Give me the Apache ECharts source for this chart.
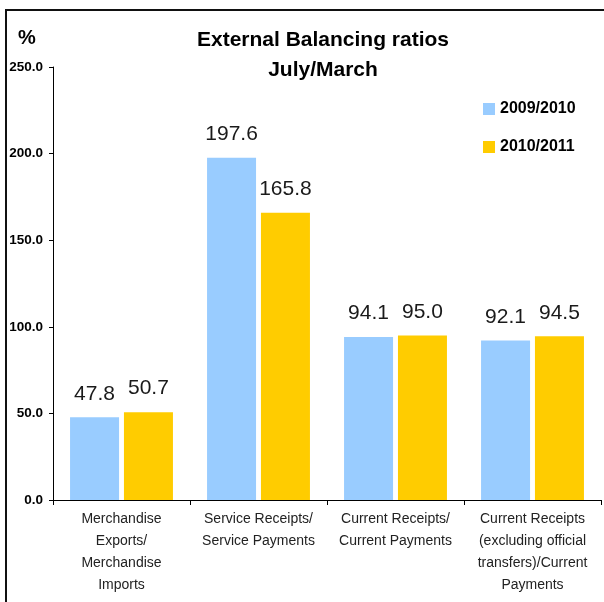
<!DOCTYPE html>
<html>
<head>
<meta charset="utf-8">
<script src="https://cdn.jsdelivr.net/npm/echarts@6/dist/echarts.min.js"></script>
<style>
  html, body { margin: 0; padding: 0; background: #fff; }
  #chart { width: 604px; height: 602px; }
</style>
</head>
<body>
<div id="chart"></div>
<script>
// Ratio categories (multi-line labels under the x axis)
const categories = [
  'Merchandise\nExports/\nMerchandise\nImports',
  'Service Receipts/\nService Payments',
  'Current Receipts/\nCurrent Payments',
  'Current Receipts\n(excluding official\ntransfers)/Current\nPayments'
];
const seriesNames = ['2009/2010', '2010/2011'];
const values2009 = [47.8, 197.6, 94.1, 92.1];
const values2010 = [50.7, 165.8, 95.0, 94.5];
const yTicks = { min: 0, max: 250, interval: 50 };

const FONT = 'Arial, "Liberation Sans", sans-serif';

const chart = echarts.init(document.getElementById('chart'));

function barSeries(name, data, color) {
  return {
    name: name,
    type: 'bar',
    data: data,
    barWidth: 49,
    barGap: '10%',
    itemStyle: { color: color },
    label: {
      show: true,
      position: 'top',
      distance: 13,
      fontFamily: FONT,
      fontSize: 21,
      color: '#1a1a1a',
      formatter: p => p.value.toFixed(1)
    }
  };
}

chart.setOption({
  animation: false,
  backgroundColor: '#fff',
  textStyle: { fontFamily: FONT },
  grid: { left: 53, right: 3, top: 67, bottom: 102, containLabel: false },
  legend: {
    orient: 'vertical',
    left: 478,
    top: 96,
    itemWidth: 12,
    itemHeight: 12,
    itemGap: 22,
    icon: 'rect',
    textStyle: { fontFamily: FONT, fontSize: 16, fontWeight: 'bold', color: '#000' },
    data: seriesNames
  },
  xAxis: {
    type: 'category',
    data: categories,
    axisLine: { lineStyle: { color: '#000', width: 1 } },
    axisTick: { show: true, length: 5, lineStyle: { color: '#000' } },
    axisLabel: {
      interval: 0,
      margin: 8,
      fontFamily: FONT,
      fontSize: 14,
      lineHeight: 22,
      color: '#222'
    },
    splitLine: { show: false }
  },
  yAxis: {
    type: 'value',
    min: yTicks.min,
    max: yTicks.max,
    interval: yTicks.interval,
    axisLine: { show: true, lineStyle: { color: '#000', width: 1 } },
    axisTick: { show: true, length: 4, lineStyle: { color: '#000' } },
    axisLabel: {
      margin: 10,
      fontFamily: FONT,
      fontSize: 13.5,
      fontWeight: 'bold',
      color: '#000',
      formatter: v => v.toFixed(1)
    },
    splitLine: { show: false }
  },
  graphic: [
    {
      type: 'rect',
      silent: true,
      shape: { x: 6, y: 10, width: 700, height: 700 },
      style: { fill: null, stroke: '#111', lineWidth: 2 }
    },
    {
      type: 'text',
      x: 323,
      y: 25,
      style: {
        text: 'External Balancing ratios\nJuly/March',
        align: 'center',
        verticalAlign: 'top',
        font: 'bold 21px ' + FONT,
        lineHeight: 30,
        fill: '#000'
      }
    },
    {
      type: 'text',
      x: 18,
      y: 28,
      style: {
        text: '%',
        align: 'left',
        verticalAlign: 'top',
        font: 'bold 20px ' + FONT,
        fill: '#000'
      }
    }
  ],
  series: [
    barSeries(seriesNames[0], values2009, '#99CCFF'),
    barSeries(seriesNames[1], values2010, '#FFCC00')
  ]
});
</script>
</body>
</html>
